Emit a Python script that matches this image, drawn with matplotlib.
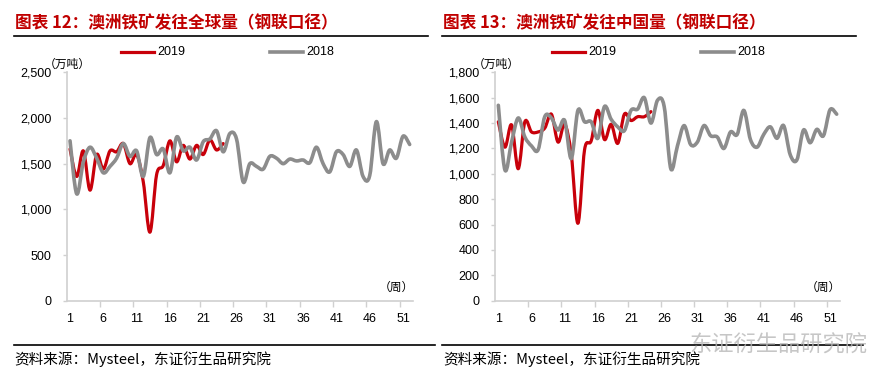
import numpy as np
import matplotlib
matplotlib.use('Agg')
import matplotlib.pyplot as plt
from matplotlib.path import Path
from matplotlib.patches import PathPatch
from matplotlib.lines import Line2D

plt.rcParams['font.family'] = ['Liberation Sans', 'Noto Sans CJK SC']

# weekly shipments, 10k tonnes
weeks = list(range(1, 53))
week_labels = [1, 6, 11, 16, 21, 26, 31, 36, 41, 46, 51]

global_2018 = [1750, 1170, 1520, 1680, 1560, 1400, 1470, 1560, 1720, 1580,
               1640, 1360, 1785, 1600, 1660, 1400, 1790, 1640, 1680, 1540,
               1740, 1770, 1860, 1630, 1830, 1770, 1300, 1500, 1470, 1440,
               1580, 1560, 1500, 1550, 1530, 1540, 1510, 1680, 1500, 1410,
               1630, 1600, 1470, 1650, 1360, 1370, 1960, 1500, 1650, 1560,
               1800, 1710]
global_2019 = [1660, 1360, 1640, 1210, 1600, 1440, 1640, 1630, 1720, 1500,
               1600, 1300, 750, 1380, 1480, 1750, 1520, 1700, 1550, 1700,
               1600, 1760, 1650, 1720]

china_2018 = [1540, 1030, 1250, 1440, 1290, 1220, 1190, 1450, 1440, 1345,
              1420, 1120, 1500, 1410, 1410, 1280, 1530, 1430, 1370, 1340,
              1500, 1510, 1600, 1400, 1580, 1530, 1040, 1220, 1380, 1230,
              1250, 1380, 1300, 1290, 1200, 1330, 1310, 1500, 1270, 1210,
              1310, 1370, 1280, 1380, 1150, 1110, 1345, 1245, 1350, 1300,
              1505, 1470]
china_2019 = [1410, 1210, 1385, 1040, 1410, 1330, 1330, 1360, 1470, 1250,
              1390, 1150, 610, 1190, 1260, 1500, 1270, 1390, 1240, 1470,
              1420, 1450, 1450, 1490]

RED = '#C8000A'
GRAY = '#8C8C8C'
AXIS = '#D0D0D0'
W, H = 880, 386


def fx(px):
    return px / W


def fy(py):
    return 1 - py / H


def smooth_path(x, y):
    # excel-style smoothed line: catmull-rom through the points as bezier curves
    pts = np.column_stack([x, y]).astype(float)
    n = len(pts)
    verts = [pts[0]]
    codes = [Path.MOVETO]
    for i in range(n - 1):
        p0 = pts[max(i - 1, 0)]
        p1 = pts[i]
        p2 = pts[i + 1]
        p3 = pts[min(i + 2, n - 1)]
        verts += [p1 + (p2 - p0) / 6, p2 - (p3 - p1) / 6, p2]
        codes += [Path.CURVE4] * 3
    return Path(verts, codes)


fig = plt.figure(figsize=(8.8, 3.86), dpi=100)


def panel(x0, x1, title, v2019, v2018, ymax, ystep, leg_x):
    ax = fig.add_axes([fx(x0), fy(300.7), fx(x1 - x0), (300.7 - 72.3) / H])
    ax.add_patch(PathPatch(smooth_path(weeks[:len(v2019)], v2019), fill=False,
                           edgecolor=RED, lw=2.3, capstyle='round', joinstyle='round'))
    ax.add_patch(PathPatch(smooth_path(weeks, v2018), fill=False,
                           edgecolor=GRAY, lw=2.6, capstyle='round', joinstyle='round'))
    ax.set_xlim(0.5, 52.5)
    ax.set_ylim(0, ymax)
    ax.set_yticks(np.arange(0, ymax + 1, ystep))
    ax.set_yticklabels([f'{v:,}' for v in range(0, ymax + 1, ystep)])
    ax.set_xticks(np.arange(5.5, 51, 5))
    ax.set_xticklabels([])
    ax.set_xticks(week_labels, minor=True)
    ax.set_xticklabels([str(w) for w in week_labels], minor=True)
    ax.tick_params(axis='x', which='major', length=4, color=AXIS, width=1)
    ax.tick_params(axis='x', which='minor', length=0, pad=9, labelsize=9)
    ax.tick_params(axis='y', length=3, color=AXIS, width=1, pad=8, labelsize=9)
    for s in ['top', 'right']:
        ax.spines[s].set_visible(False)
    for s in ['left', 'bottom']:
        ax.spines[s].set_color(AXIS)
        ax.spines[s].set_linewidth(1.2)

    # title and rule
    fig.text(fx(x0 - 52), fy(23), title, fontsize=12, fontweight='bold',
             color='#C00000', va='center', family='Noto Sans CJK SC')
    fig.add_artist(Line2D([fx(x0 - 53), fx(x0 + 361)], [fy(36), fy(36)],
                          color='black', lw=1.2))

    # legend
    fig.add_artist(Line2D([fx(leg_x), fx(leg_x + 33)], [fy(52), fy(52)], color=RED, lw=2.3))
    fig.text(fx(leg_x + 36), fy(52), '2019', fontsize=9, va='center')
    fig.add_artist(Line2D([fx(leg_x + 149), fx(leg_x + 182)], [fy(52), fy(52)], color=GRAY, lw=2.6))
    fig.text(fx(leg_x + 185), fy(52), '2018', fontsize=9, va='center')

    # units
    fig.text(fx(x0 + 1), fy(64), '（万吨）', fontsize=8.5, ha='center', va='center',
             family='Noto Sans CJK SC')
    fig.text(fx(x1 - 17), fy(287), '（周）', fontsize=8.5, ha='center', va='center',
             family='Noto Sans CJK SC')

    # source
    fig.add_artist(Line2D([fx(x0 - 53), fx(x0 + 368)], [fy(345), fy(345)],
                          color='black', lw=1.2))
    fig.text(fx(x0 - 52), fy(359), '资料来源：Mysteel，东证衍生品研究院', fontsize=10.5,
             va='center', family='Noto Sans CJK SC')
    return ax


panel(66.7, 413, '图表 12：澳洲铁矿发往全球量（钢联口径）', global_2019, global_2018,
      2500, 500, 121)
panel(495, 840, '图表 13：澳洲铁矿发往中国量（钢联口径）', china_2019, china_2018,
      1800, 200, 552)

# watermark
fig.text(fx(778), fy(345), '东证衍生品研究院', fontsize=16, color='#B8B8B8',
         ha='center', va='center', family='Noto Sans CJK SC', alpha=0.8)

fig.savefig('out.png', dpi=100)
